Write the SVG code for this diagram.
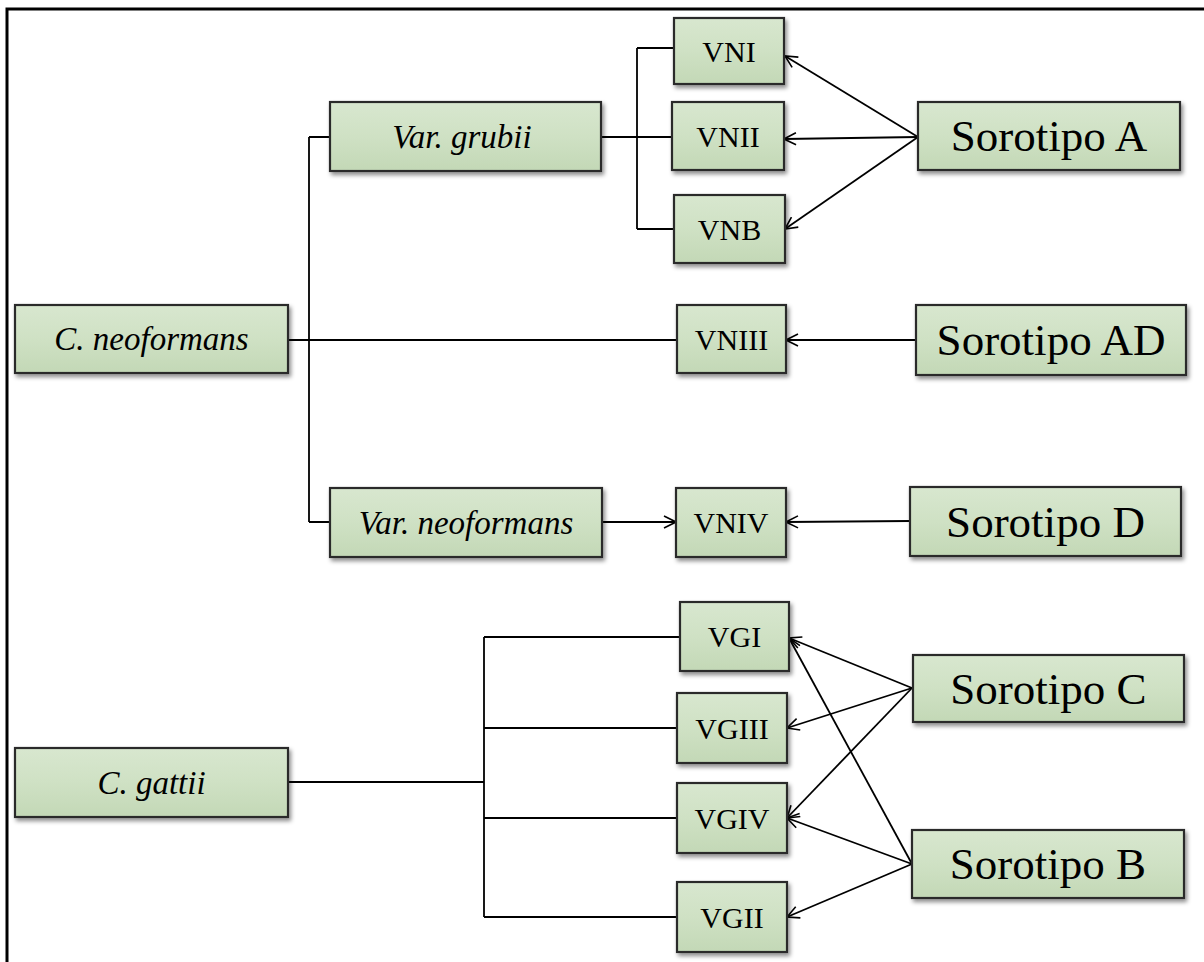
<svg xmlns="http://www.w3.org/2000/svg" width="1204" height="962" viewBox="0 0 1204 962">
<defs>
<linearGradient id="g" x1="0" y1="0" x2="0" y2="1">
<stop offset="0" stop-color="#d8e7cf"/>
<stop offset="0.5" stop-color="#cfe1c4"/>
<stop offset="1" stop-color="#c3d8b6"/>
</linearGradient>
<filter id="sh" x="-10%" y="-10%" width="130%" height="140%">
<feDropShadow dx="2" dy="3" stdDeviation="2" flood-color="#000" flood-opacity="0.45"/>
</filter>
<marker id="ar" viewBox="0 0 14 14" refX="13" refY="7" markerWidth="14" markerHeight="14" markerUnits="userSpaceOnUse" orient="auto">
<path d="M1,1 L13,7 L1,13" fill="none" stroke="#000" stroke-width="1.6"/>
</marker>
<style>
.box{fill:url(#g);stroke:#2b2b2b;stroke-width:2.2;filter:url(#sh)}
.t{font-family:"Liberation Serif","Times New Roman",serif;fill:#000;text-anchor:middle;dominant-baseline:central}
.s{font-size:30px}
.l{font-size:45px}
.i{font-size:33px;font-style:italic}
.ln{fill:none;stroke:#000;stroke-width:1.8}
.arr{fill:none;stroke:#000;stroke-width:1.8;marker-end:url(#ar)}
</style>
</defs>
<rect width="1204" height="962" fill="#fff"/>
<path d="M7,962 V9 H1204" fill="none" stroke="#000" stroke-width="3"/>
<g id="connectors">
<path class="ln" d="M309,137 V522 M309,137 H330 M309,522 H330"/>
<path class="ln" d="M288,340 H677"/>
<path class="ln" d="M601,137 H672 M637,48 V229 M637,48 H674 M637,229 H674"/>
<path class="arr" d="M602,522 H676"/>
<path class="ln" d="M288,782 H484 M484,637 V917 M484,637 H680 M484,728 H677 M484,818 H677 M484,917 H677"/>
<path class="arr" d="M918,137 L785,56"/>
<path class="arr" d="M918,137 L784,139"/>
<path class="arr" d="M918,137 L785,229"/>
<path class="arr" d="M916,340 L786,340"/>
<path class="arr" d="M910,521 L786,522"/>
<path class="arr" d="M912,688 L789,638"/>
<path class="arr" d="M912,688 L787,728"/>
<path class="arr" d="M912,688 L787,818"/>
<path class="arr" d="M912,864 L789,638"/>
<path class="arr" d="M912,864 L787,818"/>
<path class="arr" d="M912,864 L787,917"/>
</g>
<g id="c-neoformans"><rect class="box" x="15" y="305" width="273" height="68"/><text class="t i" x="151.5" y="339">C. neoformans</text></g>
<g id="var-grubii"><rect class="box" x="330" y="102" width="271" height="69"/><text class="t i" x="462" y="136.5">Var. grubii</text></g>
<g id="var-neoformans"><rect class="box" x="330" y="488" width="272" height="69"/><text class="t i" x="466" y="522.5">Var. neoformans</text></g>
<g id="c-gattii"><rect class="box" x="15" y="748" width="273" height="69"/><text class="t i" x="151.5" y="782.5">C. gattii</text></g>
<g id="vni"><rect class="box" x="674" y="18" width="110" height="66"/><text class="t s" x="729" y="51">VNI</text></g>
<g id="vnii"><rect class="box" x="672" y="102" width="112" height="68"/><text class="t s" x="728" y="136">VNII</text></g>
<g id="vnb"><rect class="box" x="674" y="195" width="111" height="68"/><text class="t s" x="729.5" y="229">VNB</text></g>
<g id="vniii"><rect class="box" x="677" y="305" width="109" height="68"/><text class="t s" x="731.5" y="339">VNIII</text></g>
<g id="vniv"><rect class="box" x="676" y="488" width="110" height="69"/><text class="t s" x="731" y="522.5">VNIV</text></g>
<g id="vgi"><rect class="box" x="680" y="602" width="109" height="69"/><text class="t s" x="734.5" y="636.5">VGI</text></g>
<g id="vgiii"><rect class="box" x="677" y="693" width="110" height="70"/><text class="t s" x="732" y="728">VGIII</text></g>
<g id="vgiv"><rect class="box" x="677" y="783" width="110" height="70"/><text class="t s" x="732" y="818">VGIV</text></g>
<g id="vgii"><rect class="box" x="677" y="882" width="110" height="70"/><text class="t s" x="732" y="917">VGII</text></g>
<g id="sorotipo-a"><rect class="box" x="918" y="102" width="262" height="68"/><text class="t l" x="1049" y="136">Sorotipo A</text></g>
<g id="sorotipo-ad"><rect class="box" x="916" y="305" width="270" height="70"/><text class="t l" x="1051" y="340">Sorotipo AD</text></g>
<g id="sorotipo-d"><rect class="box" x="910" y="487" width="271" height="69"/><text class="t l" x="1045.5" y="521.5">Sorotipo D</text></g>
<g id="sorotipo-c"><rect class="box" x="913" y="655" width="271" height="67"/><text class="t l" x="1048.5" y="688.5">Sorotipo C</text></g>
<g id="sorotipo-b"><rect class="box" x="912" y="830" width="272" height="68"/><text class="t l" x="1048" y="864">Sorotipo B</text></g>
</svg>
